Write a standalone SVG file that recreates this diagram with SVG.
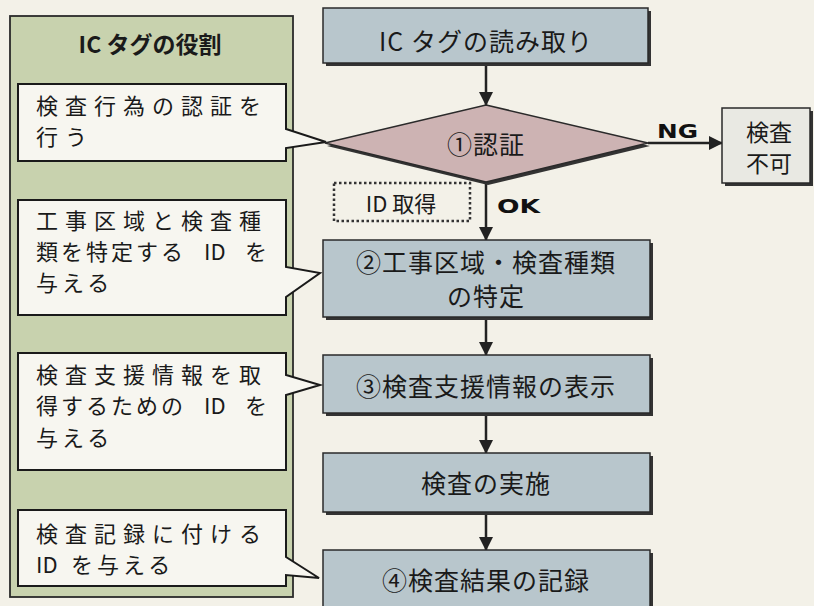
<svg xmlns="http://www.w3.org/2000/svg" width="814" height="606" viewBox="0 0 814 606">
<style>
.jp{font-family:"Noto Sans CJK JP","Noto Sans",sans-serif;fill:#1a1a1a}
.main{font-size:25px;text-anchor:middle;letter-spacing:1px}
.call{font-size:22px}
.wide{letter-spacing:7px}
.mid{letter-spacing:4px}
.title{font-size:23px;font-weight:bold;text-anchor:middle}
.box{fill:#b8c6cc;stroke:#2a2a2a;stroke-width:1.5}
.shadow{fill:#333}
.callout{fill:#f7f6f0;stroke:#1a1a1a;stroke-width:2;stroke-linejoin:miter}
.conn{stroke:#222;stroke-width:2.5;fill:none}
.lab{font-family:"DejaVu Sans","Liberation Sans",sans-serif;font-weight:bold;font-size:20px;fill:#111}
</style>
<defs>
<marker id="ah" viewBox="0 0 14 14" refX="13" refY="7" markerWidth="14" markerHeight="14" markerUnits="userSpaceOnUse" orient="auto">
<path d="M0,0 L14,7 L0,14 Z" fill="#222"/>
</marker>
</defs>
<rect width="814" height="606" fill="#f3f1e8"/>

<g id="panel">
<rect x="10" y="16" width="283" height="581" fill="#c8d2ae" stroke="#2a2a2a" stroke-width="1.8"/>
<text class="jp title" x="150" y="53">IC タグの役割</text>
</g>

<g id="callout1">
<path class="callout" d="M18,84 H286 V129 L326,142 L286,148 V161 H18 Z"/>
<text class="jp call wide" x="36" y="114">検査行為の認証を</text>
<text class="jp call wide" x="36" y="145">行う</text>
</g>

<g id="callout2">
<path class="callout" d="M18,200 H286 V267 L320,273 L286,297 V315 H18 Z"/>
<text class="jp call wide" x="36" y="229">工事区域と検査種</text>
<text class="jp call" x="36" y="260"><tspan letter-spacing="3">類を特定する</tspan><tspan x="204">ID</tspan><tspan x="245">を</tspan></text>
<text class="jp call mid" x="36" y="291">与える</text>
</g>

<g id="callout3">
<path class="callout" d="M18,353 H286 V375 L320,385 L286,395 V470 H18 Z"/>
<text class="jp call wide" x="36" y="383">検査支援情報を取</text>
<text class="jp call" x="36" y="414"><tspan letter-spacing="3">得するための</tspan><tspan x="204">ID</tspan><tspan x="245">を</tspan></text>
<text class="jp call mid" x="36" y="446">与える</text>
</g>

<g id="callout4">
<path class="callout" d="M18,510 H286 V557 L319,578 L286,575 V586 H18 Z"/>
<text class="jp call wide" x="36" y="542">検査記録に付ける</text>
<text class="jp call" x="36" y="573">ID<tspan x="71" letter-spacing="4">を与える</tspan></text>
</g>

<g id="connectors">
<line class="conn" x1="486" y1="66" x2="486" y2="105" marker-end="url(#ah)"/>
<line class="conn" x1="486" y1="182" x2="486" y2="240" marker-end="url(#ah)"/>
<line class="conn" x1="486" y1="320" x2="486" y2="355" marker-end="url(#ah)"/>
<line class="conn" x1="486" y1="416" x2="486" y2="453" marker-end="url(#ah)"/>
<line class="conn" x1="486" y1="515" x2="486" y2="550" marker-end="url(#ah)"/>
<line class="conn" x1="648" y1="143" x2="722" y2="143" marker-end="url(#ah)"/>
<text class="lab" x="657" y="138" textLength="41" lengthAdjust="spacingAndGlyphs">NG</text>
<text class="lab" x="497" y="213" textLength="43" lengthAdjust="spacingAndGlyphs">OK</text>
</g>

<g id="read">
<rect class="shadow" x="326" y="11" width="325" height="55"/>
<rect class="box" x="323" y="8" width="325" height="55"/>
<text class="jp main" x="486" y="51">IC タグの読み取り</text>
</g>

<g id="auth">
<polygon points="488,108 650,146 488,185 327,146" fill="#333"/>
<polygon points="486,105 648,143 486,182 325,143" fill="#cdb3b3" stroke="#2a2a2a" stroke-width="1.5"/>
<text class="jp main" x="486" y="154">①認証</text>
</g>

<g id="ng">
<rect class="shadow" x="725" y="111" width="88" height="75"/>
<rect x="722" y="108" width="88" height="75" fill="#e9e9e3" stroke="#2a2a2a" stroke-width="1.5"/>
<text class="jp" x="769" y="141" font-size="23" text-anchor="middle">検査</text>
<text class="jp" x="769" y="172" font-size="23" text-anchor="middle">不可</text>
</g>

<g id="idget">
<rect x="334" y="183" width="136" height="38" fill="none" stroke="#333" stroke-width="2.5" stroke-dasharray="2.5,2.5"/>
<text class="jp" x="401" y="212" font-size="22" text-anchor="middle">ID 取得</text>
</g>

<g id="step2">
<rect class="shadow" x="326" y="243" width="327" height="77"/>
<rect class="box" x="323" y="240" width="327" height="77"/>
<text class="jp main" x="486" y="272">②工事区域・検査種類</text>
<text class="jp main" x="486" y="306">の特定</text>
</g>

<g id="step3">
<rect class="shadow" x="326" y="358" width="327" height="58"/>
<rect class="box" x="323" y="355" width="327" height="58"/>
<text class="jp main" x="486" y="396">③検査支援情報の表示</text>
</g>

<g id="step4">
<rect class="shadow" x="326" y="456" width="327" height="59"/>
<rect class="box" x="323" y="453" width="327" height="59"/>
<text class="jp main" x="486" y="493">検査の実施</text>
</g>

<g id="step5">
<rect class="shadow" x="326" y="553" width="327" height="53"/>
<rect class="box" x="323" y="550" width="327" height="60"/>
<text class="jp main" x="486" y="590">④検査結果の記録</text>
</g>
</svg>
